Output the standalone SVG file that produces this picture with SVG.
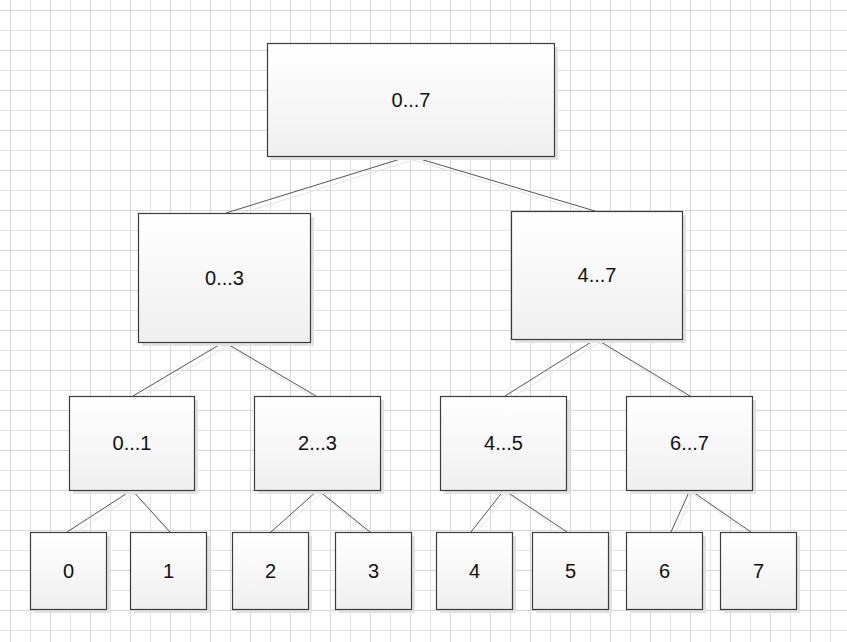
<svg xmlns="http://www.w3.org/2000/svg" width="847" height="642" viewBox="0 0 847 642">
<defs>
<pattern id="grid" x="10" y="10" width="40" height="40" patternUnits="userSpaceOnUse">
<path d="M0 20.5H40M20.5 0V40" stroke="#e3e3e3" stroke-width="1" fill="none"/>
<path d="M0 0.5H40M0.5 0V40" stroke="#d6d6d6" stroke-width="1" fill="none"/>
</pattern>
<linearGradient id="fill" x1="0" y1="0" x2="0" y2="1">
<stop offset="0" stop-color="#ffffff"/>
<stop offset="1" stop-color="#efefef"/>
</linearGradient>
<style>
.box{fill:url(#fill);stroke:#3c3c3c;stroke-width:1.2}
.sh{fill:#e2e2e2}
.lbl{font-family:"Liberation Sans",Arial,sans-serif;font-size:20px;fill:#111;text-anchor:middle}
.c{stroke:#555;stroke-width:1;fill:none}
.cs{stroke:#e4e4e4;stroke-width:1;fill:none}
</style>
</defs>
<rect width="847" height="642" fill="#ffffff"/>
<rect width="847" height="642" fill="url(#grid)"/>
<g id="connectors">
<g class="cs" transform="translate(3,4)">
<path d="M410 156L226 213M410 156L595 211"/>
<path d="M224 342L133 396M224 342L316 396"/>
<path d="M596 339L505 396M596 339L690 396"/>
<path d="M132 490L67 532M132 490L170 532"/>
<path d="M318 490L271 532M318 490L370 532"/>
<path d="M504 490L471 532M504 490L567 532"/>
<path d="M690 490L671 532M690 490L751 532"/>
</g>
<g class="c">
<path d="M410 156L226 213M410 156L595 211"/>
<path d="M224 342L133 396M224 342L316 396"/>
<path d="M596 339L505 396M596 339L690 396"/>
<path d="M132 490L67 532M132 490L170 532"/>
<path d="M318 490L271 532M318 490L370 532"/>
<path d="M504 490L471 532M504 490L567 532"/>
<path d="M690 490L671 532M690 490L751 532"/>
</g>
</g>
<g id="n0-7"><rect class="sh" x="271" y="47" width="287" height="113"/><rect class="box" x="267.5" y="43.5" width="287" height="113"/><text class="lbl" x="411" y="107">0...7</text></g>
<g id="n0-3"><rect class="sh" x="142" y="217" width="172" height="129"/><rect class="box" x="138.5" y="213.5" width="172" height="129"/><text class="lbl" x="224.5" y="285">0...3</text></g>
<g id="n4-7"><rect class="sh" x="515" y="215" width="171" height="128"/><rect class="box" x="511.5" y="211.5" width="171" height="128"/><text class="lbl" x="597" y="282">4...7</text></g>
<g id="n0-1"><rect class="sh" x="73" y="400" width="125" height="94"/><rect class="box" x="69.5" y="396.5" width="125" height="94"/><text class="lbl" x="132" y="450">0...1</text></g>
<g id="n2-3"><rect class="sh" x="258" y="400" width="126" height="94"/><rect class="box" x="254.5" y="396.5" width="126" height="94"/><text class="lbl" x="317.5" y="450">2...3</text></g>
<g id="n4-5"><rect class="sh" x="444" y="400" width="126" height="94"/><rect class="box" x="440.5" y="396.5" width="126" height="94"/><text class="lbl" x="503.5" y="450">4...5</text></g>
<g id="n6-7"><rect class="sh" x="630" y="400" width="126" height="94"/><rect class="box" x="626.5" y="396.5" width="126" height="94"/><text class="lbl" x="689.5" y="450">6...7</text></g>
<g id="n0"><rect class="sh" x="34" y="536" width="76" height="77"/><rect class="box" x="30.5" y="532.5" width="76" height="77"/><text class="lbl" x="68.5" y="578">0</text></g>
<g id="n1"><rect class="sh" x="134" y="536" width="76" height="77"/><rect class="box" x="130.5" y="532.5" width="76" height="77"/><text class="lbl" x="168.5" y="578">1</text></g>
<g id="n2"><rect class="sh" x="236" y="536" width="76" height="77"/><rect class="box" x="232.5" y="532.5" width="76" height="77"/><text class="lbl" x="270.5" y="578">2</text></g>
<g id="n3"><rect class="sh" x="339" y="536" width="76" height="77"/><rect class="box" x="335.5" y="532.5" width="76" height="77"/><text class="lbl" x="373.5" y="578">3</text></g>
<g id="n4"><rect class="sh" x="440" y="536" width="76" height="77"/><rect class="box" x="436.5" y="532.5" width="76" height="77"/><text class="lbl" x="474.5" y="578">4</text></g>
<g id="n5"><rect class="sh" x="536" y="536" width="76" height="77"/><rect class="box" x="532.5" y="532.5" width="76" height="77"/><text class="lbl" x="570.5" y="578">5</text></g>
<g id="n6"><rect class="sh" x="630" y="536" width="76" height="77"/><rect class="box" x="626.5" y="532.5" width="76" height="77"/><text class="lbl" x="664.5" y="578">6</text></g>
<g id="n7"><rect class="sh" x="724" y="536" width="76" height="77"/><rect class="box" x="720.5" y="532.5" width="76" height="77"/><text class="lbl" x="758.5" y="578">7</text></g>
</svg>
